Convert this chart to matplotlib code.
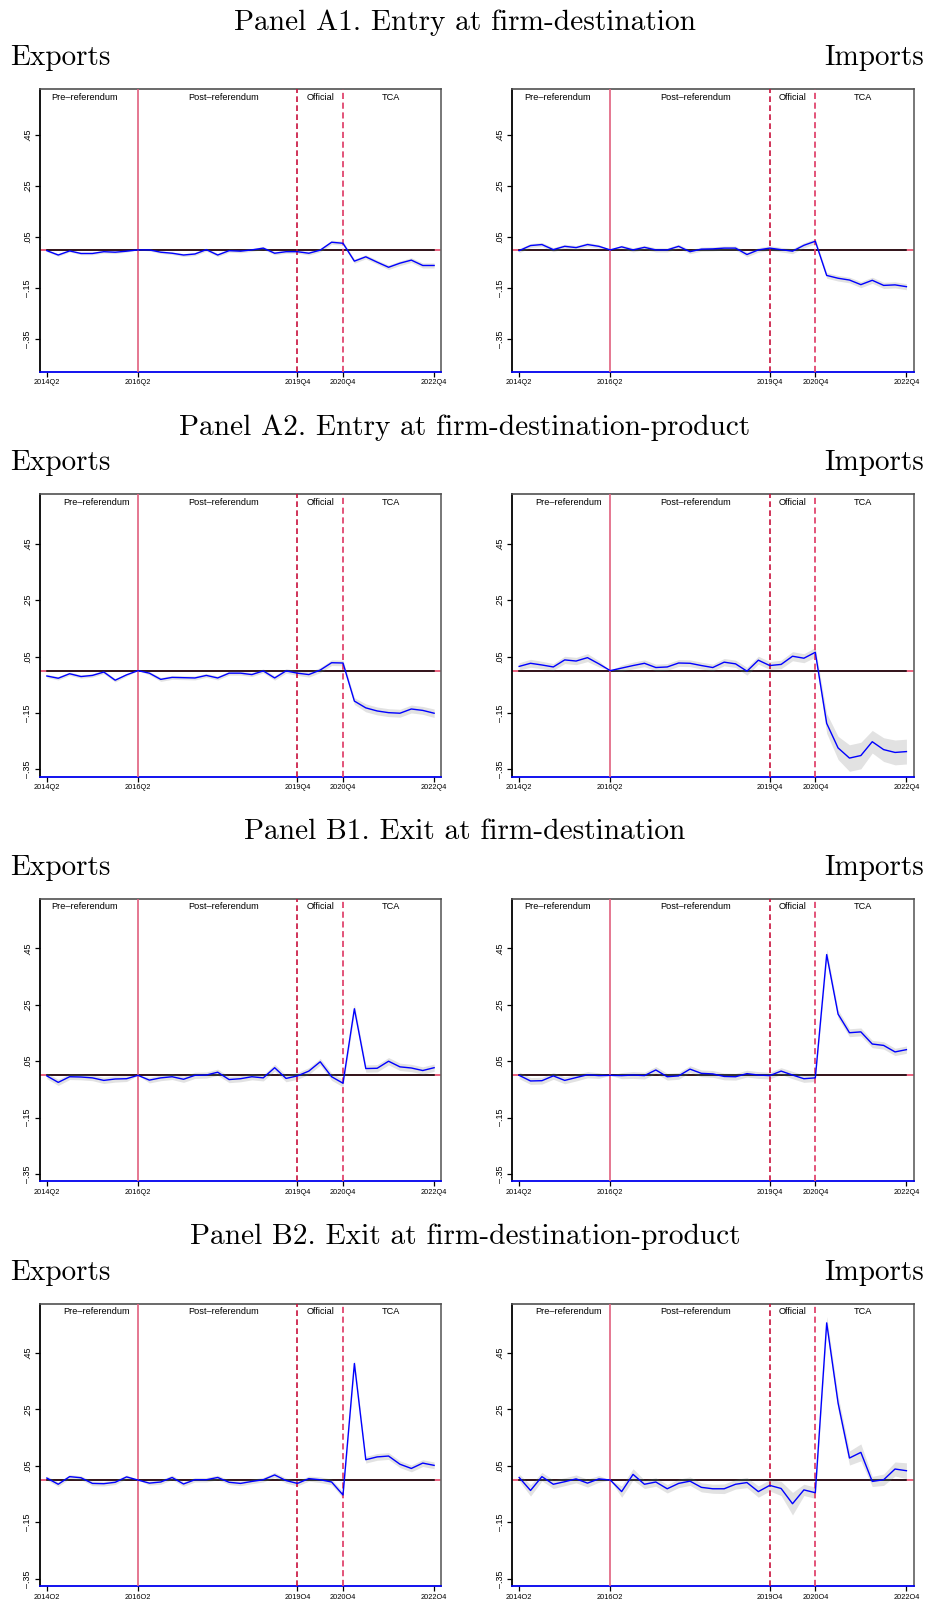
import matplotlib
matplotlib.use("Agg")
import matplotlib.pyplot as plt
import matplotlib.transforms as mtransforms
import numpy as np

# quarters 2014Q2 .. 2022Q4 (35 points), 2016Q2 is the base period
n_q = 35
tick_pos = [0, 8, 22, 26, 34]
tick_labels = ["2014Q2", "2016Q2", "2019Q4", "2020Q4", "2022Q4"]
ytick_vals = [0.45, 0.25, 0.05, -0.15, -0.35]
ytick_labels = [".45", ".25", ".05", "\u2013.15", "\u2013.35"]

panel_titles = ["Panel A1. Entry at firm-destination",
                "Panel A2. Entry at firm-destination-product",
                "Panel B1. Exit at firm-destination",
                "Panel B2. Exit at firm-destination-product"]
panel_ylims = [(-0.477, 0.629), (-0.376, 0.625), (-0.376, 0.625), (-0.376, 0.625)]
pre_label_x = [3.35, 4.33, 3.35, 4.33]

period_names = ["Post\u2013referendum", "Official", "TCA"]
period_x = [15.5, 24.0, 30.2]

a1_exp = [-0.003, -0.02, -0.004, -0.014, -0.014, -0.007, -0.009, -0.005, 0.0, 0.0,
          -0.009, -0.013, -0.02, -0.016, 0.001, -0.02, -0.003, -0.005, 0.0, 0.007,
          -0.013, -0.007, -0.007, -0.013, -0.001, 0.03, 0.026, -0.044, -0.027, -0.048,
          -0.068, -0.052, -0.04, -0.061, -0.061]
a1_exp_ci = [0.004, 0.005, 0.004, 0.005, 0.005, 0.005, 0.005, 0.004, 0.0, 0.004,
             0.005, 0.005, 0.006, 0.006, 0.006, 0.006, 0.006, 0.006, 0.006, 0.006,
             0.006, 0.006, 0.006, 0.007, 0.007, 0.008, 0.008, 0.008, 0.008, 0.008,
             0.009, 0.009, 0.009, 0.01, 0.01]
a1_imp = [-0.003, 0.017, 0.021, 0.001, 0.014, 0.009, 0.021, 0.014, 0.0, 0.012,
          0.0, 0.01, 0.0, 0.0, 0.014, -0.007, 0.003, 0.004, 0.007, 0.007,
          -0.018, 0.0, 0.007, 0.001, -0.005, 0.018, 0.034, -0.1, -0.111, -0.118,
          -0.136, -0.119, -0.139, -0.137, -0.144]
a1_imp_ci = [0.008, 0.008, 0.008, 0.008, 0.008, 0.008, 0.008, 0.007, 0.0, 0.007,
             0.008, 0.008, 0.008, 0.008, 0.008, 0.008, 0.008, 0.008, 0.008, 0.008,
             0.009, 0.009, 0.009, 0.009, 0.01, 0.01, 0.01, 0.011, 0.011, 0.011,
             0.012, 0.012, 0.012, 0.012, 0.012]
a2_exp = [-0.019, -0.027, -0.011, -0.021, -0.017, -0.005, -0.034, -0.015, 0.0, -0.009,
          -0.031, -0.024, -0.025, -0.026, -0.017, -0.026, -0.009, -0.009, -0.014, -0.001,
          -0.026, -0.001, -0.009, -0.014, 0.002, 0.028, 0.027, -0.108, -0.132, -0.143,
          -0.149, -0.151, -0.136, -0.141, -0.151]
a2_exp_ci = [0.006, 0.006, 0.006, 0.006, 0.006, 0.006, 0.006, 0.005, 0.0, 0.006,
             0.007, 0.007, 0.007, 0.007, 0.007, 0.007, 0.007, 0.007, 0.007, 0.007,
             0.008, 0.008, 0.008, 0.009, 0.009, 0.01, 0.01, 0.012, 0.014, 0.014,
             0.014, 0.014, 0.014, 0.014, 0.015]
a2_imp = [0.015, 0.026, 0.02, 0.013, 0.038, 0.034, 0.046, 0.024, 0.0, 0.009,
          0.018, 0.026, 0.011, 0.013, 0.027, 0.026, 0.018, 0.011, 0.03, 0.024,
          -0.002, 0.037, 0.018, 0.022, 0.051, 0.044, 0.065, -0.187, -0.274, -0.31,
          -0.301, -0.252, -0.28, -0.29, -0.287]
a2_imp_ci = [0.013, 0.014, 0.013, 0.012, 0.013, 0.013, 0.014, 0.011, 0.0, 0.011,
             0.012, 0.012, 0.012, 0.012, 0.012, 0.012, 0.012, 0.012, 0.013, 0.013,
             0.014, 0.014, 0.014, 0.015, 0.016, 0.016, 0.017, 0.035, 0.041, 0.047,
             0.047, 0.04, 0.042, 0.044, 0.044]
b1_exp = [-0.002, -0.025, -0.005, -0.006, -0.009, -0.018, -0.013, -0.012, 0.0, -0.017,
          -0.009, -0.005, -0.014, 0.0, 0.001, 0.011, -0.015, -0.012, -0.005, -0.009,
          0.027, -0.011, -0.002, 0.015, 0.048, -0.005, -0.028, 0.236, 0.024, 0.025,
          0.05, 0.03, 0.026, 0.017, 0.027]
b1_exp_ci = [0.01, 0.011, 0.01, 0.01, 0.01, 0.011, 0.011, 0.01, 0.0, 0.01,
             0.01, 0.01, 0.011, 0.011, 0.011, 0.011, 0.011, 0.011, 0.011, 0.011,
             0.012, 0.012, 0.012, 0.012, 0.012, 0.013, 0.013, 0.016, 0.013, 0.013,
             0.013, 0.013, 0.013, 0.013, 0.013]
b1_imp = [0.0, -0.02, -0.019, -0.002, -0.018, -0.008, 0.002, -0.001, 0.0, -0.001,
          0.001, -0.001, 0.019, -0.005, -0.002, 0.022, 0.007, 0.005, -0.004, -0.005,
          0.006, 0.001, -0.001, 0.015, 0.001, -0.012, -0.009, 0.428, 0.217, 0.151,
          0.154, 0.111, 0.106, 0.083, 0.091]
b1_imp_ci = [0.012, 0.012, 0.012, 0.012, 0.012, 0.012, 0.011, 0.01, 0.0, 0.011,
             0.012, 0.012, 0.012, 0.012, 0.012, 0.012, 0.012, 0.012, 0.012, 0.012,
             0.012, 0.012, 0.012, 0.012, 0.013, 0.013, 0.013, 0.018, 0.015, 0.014,
             0.014, 0.013, 0.013, 0.013, 0.013]
b2_exp = [0.007, -0.015, 0.012, 0.008, -0.012, -0.013, -0.008, 0.011, 0.0, -0.011,
          -0.007, 0.009, -0.014, 0.001, 0.001, 0.009, -0.008, -0.012, -0.005, 0.001,
          0.018, -0.002, -0.012, 0.005, 0.001, -0.007, -0.053, 0.413, 0.072, 0.082,
          0.085, 0.056, 0.041, 0.06, 0.052]
b2_exp_ci = [0.007, 0.008, 0.007, 0.007, 0.008, 0.008, 0.008, 0.007, 0.0, 0.007,
             0.008, 0.008, 0.008, 0.008, 0.008, 0.008, 0.008, 0.008, 0.008, 0.008,
             0.009, 0.009, 0.009, 0.009, 0.01, 0.01, 0.011, 0.014, 0.012, 0.012,
             0.012, 0.012, 0.012, 0.012, 0.012]
b2_imp = [0.009, -0.037, 0.012, -0.015, -0.006, 0.004, -0.011, 0.004, 0.0, -0.041,
          0.02, -0.015, -0.007, -0.031, -0.012, -0.004, -0.026, -0.031, -0.031, -0.015,
          -0.009, -0.041, -0.019, -0.03, -0.084, -0.035, -0.045, 0.557, 0.273, 0.078,
          0.098, -0.005, 0.001, 0.039, 0.033]
b2_imp_ci = [0.012, 0.02, 0.015, 0.015, 0.014, 0.014, 0.014, 0.012, 0.0, 0.02,
             0.02, 0.015, 0.015, 0.015, 0.015, 0.015, 0.016, 0.016, 0.017, 0.017,
             0.018, 0.02, 0.02, 0.025, 0.04, 0.02, 0.02, 0.022, 0.025, 0.025,
             0.03, 0.018, 0.02, 0.025, 0.028]

series = [(a1_exp, a1_exp_ci, a1_imp, a1_imp_ci),
          (a2_exp, a2_exp_ci, a2_imp, a2_imp_ci),
          (b1_exp, b1_exp_ci, b1_imp, b1_imp_ci),
          (b2_exp, b2_exp_ci, b2_imp, b2_imp_ci)]

W, H = 930, 1599
fig = plt.figure(figsize=(W / 100, H / 100), dpi=100)

sans = ["Liberation Sans", "DejaVu Sans"]
serif = ["cmr10", "DejaVu Serif"]

ax_tops = [89.3, 494.3, 899.0, 1303.7]
ax_h = 282.4
ax_lefts = [40.0, 512.3]
ax_w = 401.3


def draw_panel(ax, y, ci, ylim, pre_x):
    x = np.arange(n_q)
    y = np.array(y)
    ci = np.array(ci)
    ax.set_xlim(-0.6, 34.63)
    ax.set_ylim(*ylim)
    ax.axhline(0, color="#e8486a", lw=1.2, zorder=1)
    ax.fill_between(x, y - ci, y + ci, color="#e2e2e2", lw=0, zorder=2)
    ax.plot([0, n_q - 1], [0, 0], color="black", lw=1.1, zorder=3)
    ax.axvline(8, color="#e0607e", lw=1.2, zorder=4)
    ax.axvline(22, color="#c8103c", lw=1.2, ls=(0, (3.4, 2.0)), zorder=4)
    ax.axvline(26, color="#e0456e", lw=1.3, ls=(0, (3.4, 2.0)), zorder=4)
    ax.plot(x, y, color="#0000ff", lw=1.0, zorder=5)

    trans = mtransforms.blended_transform_factory(ax.transData, ax.transAxes)
    ax.text(pre_x, 0.972, "Pre\u2013referendum", transform=trans, ha="center",
            va="center", fontsize=6.6, family=sans)
    for name, px in zip(period_names, period_x):
        ax.text(px, 0.972, name, transform=trans, ha="center", va="center",
                fontsize=6.6, family=sans)

    ax.set_xticks(tick_pos)
    ax.set_xticklabels(tick_labels, fontsize=5.3, family=sans)
    ax.set_yticks(ytick_vals)
    ax.set_yticklabels(ytick_labels, fontsize=6.5, family=sans, rotation=90,
                       va="center")
    ax.tick_params(axis="both", length=3.5, width=0.9, pad=2, colors="black")
    ax.spines["left"].set_color("black")
    ax.spines["left"].set_linewidth(1.3)
    ax.spines["top"].set_color("#505050")
    ax.spines["top"].set_linewidth(1.2)
    ax.spines["right"].set_color("#606060")
    ax.spines["right"].set_linewidth(1.2)
    ax.spines["bottom"].set_color("#0000ee")
    ax.spines["bottom"].set_linewidth(1.3)


for p in range(4):
    top = ax_tops[p]
    exp_y, exp_ci, imp_y, imp_ci = series[p]
    for k, (yv, cv) in enumerate([(exp_y, exp_ci), (imp_y, imp_ci)]):
        ax = fig.add_axes([ax_lefts[k] / W, 1 - (top + ax_h) / H,
                           ax_w / W, ax_h / H])
        draw_panel(ax, yv, cv, panel_ylims[p], pre_label_x[p])

    fig.text(0.5, 1 - (top - 67) / H, panel_titles[p], ha="center",
             va="center", fontsize=21.2, family=serif)
    fig.text(10 / W, 1 - (top - 31) / H, "Exports", ha="left", va="center",
             fontsize=21, family=serif)
    fig.text(924 / W, 1 - (top - 31) / H, "Imports", ha="right", va="center",
             fontsize=21, family=serif)

fig.savefig("out.png", dpi=100, facecolor="white")
